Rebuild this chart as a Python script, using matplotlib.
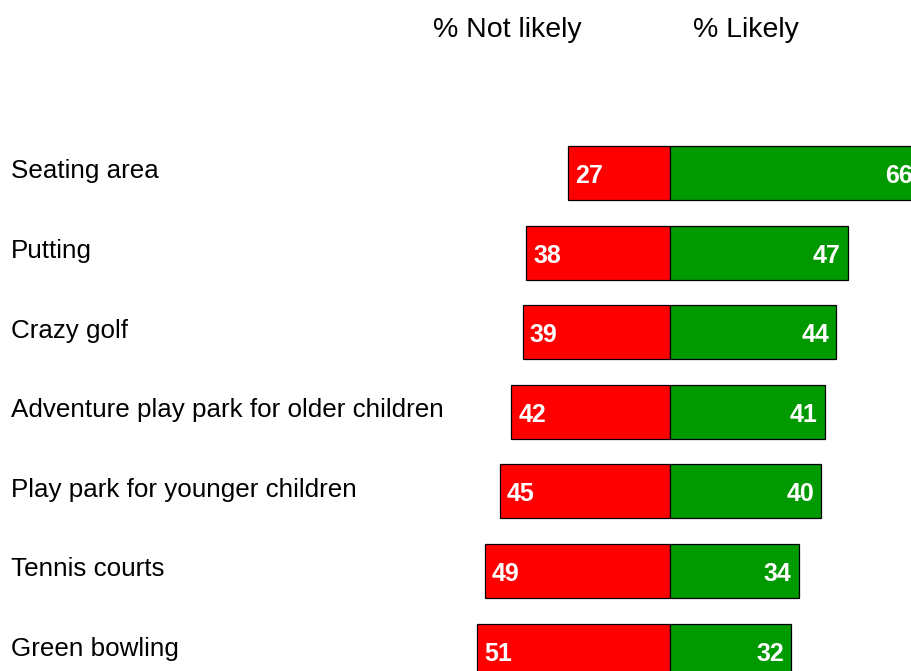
import matplotlib
matplotlib.use("Agg")
import matplotlib.pyplot as plt
from matplotlib.transforms import offset_copy

categories = ["Seating area", "Putting", "Crazy golf", "Adventure play park for older children",
              "Play park for younger children", "Tennis courts", "Green bowling"]
not_likely = [27, 38, 39, 42, 45, 49, 51]
likely = [66, 47, 44, 41, 40, 34, 32]

plt.rcParams['font.family'] = ['Liberation Sans', 'DejaVu Sans']
W, H = 912, 671
fig = plt.figure(figsize=(W / 100, H / 100), dpi=100)
ax = fig.add_axes([0, 0, 1, 1])
ax.axis('off')

scale = 3.78   # px per unit
center_px = 670
ax.set_xlim(-center_px / scale, (W - center_px) / scale)
pitch = 79.6
first = 173
ax.set_ylim((H - first) / pitch, -first / pitch)

red = '#FF0000'
green = '#009900'
ypos = list(range(len(categories)))
ax.barh(ypos, [-v for v in not_likely], height=0.68, color=red, edgecolor='black', linewidth=0.9)
ax.barh(ypos, likely, height=0.68, color=green, edgecolor='black', linewidth=0.9)

for i, (n, l) in enumerate(zip(not_likely, likely)):
    tl = offset_copy(ax.transData, fig=fig, x=7, y=-3, units='dots')
    ax.text(-n, i, str(n), transform=tl, ha='left', va='center', color='white',
            fontsize=18, fontweight='bold')
    tr = offset_copy(ax.transData, fig=fig, x=-7, y=-3, units='dots')
    ax.text(l, i, str(l), transform=tr, ha='right', va='center', color='white',
            fontsize=18, fontweight='bold', clip_on=False)
    ax.text(11 / W, i - 0.02, categories[i], transform=ax.get_yaxis_transform(), ha='left',
            va='center', fontsize=18.7, color='black')

fig.text(507 / W, 1 - 30 / H, "% Not likely", ha='center', va='center', fontsize=20.5)
fig.text(746 / W, 1 - 30 / H, "% Likely", ha='center', va='center', fontsize=20.5)

fig.savefig("out.png", dpi=100)
